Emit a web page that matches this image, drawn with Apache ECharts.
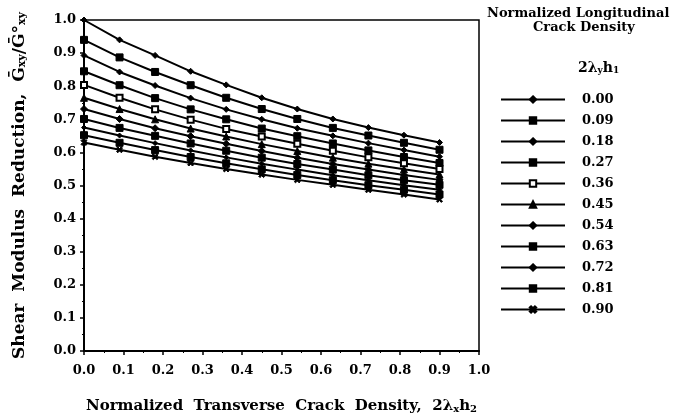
<!DOCTYPE html>
<html>
<head>
<meta charset="utf-8">
<script src="https://cdn.jsdelivr.net/npm/echarts@6/dist/echarts.min.js"></script>
<style>
  html, body { margin: 0; padding: 0; background: #fff; }
  #chart { width: 675px; height: 419px; }
</style>
</head>
<body>
<div id="chart"></div>
<script>
// transverse crack density (x axis)
const xs = [0.00, 0.09, 0.18, 0.27, 0.36, 0.45, 0.54, 0.63, 0.72, 0.81, 0.90];

// one curve per longitudinal crack density
const names = ['0.00', '0.09', '0.18', '0.27', '0.36', '0.45', '0.54', '0.63', '0.72', '0.81', '0.90'];
const c000 = [1.000, 0.940, 0.893, 0.845, 0.804, 0.765, 0.731, 0.701, 0.675, 0.652, 0.630];
const c009 = [0.940, 0.887, 0.843, 0.803, 0.765, 0.731, 0.701, 0.674, 0.651, 0.629, 0.608];
const c018 = [0.893, 0.843, 0.802, 0.764, 0.730, 0.700, 0.673, 0.650, 0.628, 0.607, 0.587];
const c027 = [0.845, 0.803, 0.764, 0.730, 0.700, 0.672, 0.649, 0.627, 0.606, 0.586, 0.568];
const c036 = [0.804, 0.765, 0.730, 0.699, 0.671, 0.648, 0.626, 0.605, 0.585, 0.567, 0.550];
const c045 = [0.765, 0.731, 0.700, 0.672, 0.648, 0.625, 0.604, 0.584, 0.566, 0.549, 0.533];
const c054 = [0.731, 0.701, 0.673, 0.649, 0.626, 0.604, 0.584, 0.565, 0.548, 0.532, 0.517];
const c063 = [0.701, 0.674, 0.650, 0.627, 0.605, 0.584, 0.565, 0.548, 0.531, 0.516, 0.502];
const c072 = [0.675, 0.651, 0.628, 0.606, 0.585, 0.566, 0.548, 0.531, 0.516, 0.501, 0.487];
const c081 = [0.652, 0.629, 0.607, 0.586, 0.567, 0.549, 0.532, 0.516, 0.501, 0.487, 0.473];
const c090 = [0.630, 0.608, 0.587, 0.568, 0.550, 0.533, 0.517, 0.502, 0.487, 0.473, 0.458];
const curves = [c000, c009, c018, c027, c036, c045, c054, c063, c072, c081, c090];

const xTicks = ['0.0', '0.1', '0.2', '0.3', '0.4', '0.5', '0.6', '0.7', '0.8', '0.9', '1.0'];
const yTicks = ['0.0', '0.1', '0.2', '0.3', '0.4', '0.5', '0.6', '0.7', '0.8', '0.9', '1.0'];

const cross = 'path://M0,2L2,0L5,3L8,0L10,2L7,5L10,8L8,10L5,7L2,10L0,8L3,5Z';
const symbols = ['diamond', 'rect', 'diamond', 'rect', 'emptyRect', 'triangle', 'diamond', 'rect', 'diamond', 'rect', cross];
const sizes = [6, 7, 6, 7, 6, 7, 7, 7, 5, 7, 6];

const serif = 'DejaVu Serif';

const chart = echarts.init(document.getElementById('chart'));

const series = curves.map((vals, i) => ({
  name: names[i],
  type: 'line',
  data: xs.map((x, k) => [x, vals[k]]),
  symbol: symbols[i],
  symbolSize: sizes[i],
  showAllSymbol: true,
  lineStyle: { color: '#000', width: 2 },
  itemStyle: { color: '#000', borderColor: '#000', borderWidth: 1 },
  emphasis: { disabled: true },
  z: 3
}));

chart.setOption({
  animation: false,
  backgroundColor: '#fff',
  grid: {
    left: 84, right: 196, top: 20, bottom: 68,
    outerBoundsMode: 'none',
    show: true, borderColor: '#000', borderWidth: 1.5
  },
  legend: {
    orient: 'vertical',
    left: 495, top: 88,
    itemWidth: 64, itemHeight: 8, itemGap: 8,
    data: names,
    textStyle: { fontFamily: serif, fontWeight: 'bold', fontSize: 13, color: '#000', padding: [0, 0, 0, 12] },
    selectedMode: false
  },
  graphic: [
    { type: 'text', left: 487, top: 7, style: { text: 'Normalized Longitudinal', font: 'bold 13px "DejaVu Serif"', fill: '#000' } },
    { type: 'text', left: 533, top: 21, style: { text: 'Crack Density', font: 'bold 13px "DejaVu Serif"', fill: '#000' } },
    {
      type: 'text', left: 578, top: 61,
      style: {
        text: '{m|2λ}{s|y}{m|h}{s|1}',
        rich: {
          m: { fontFamily: serif, fontWeight: 'bold', fontSize: 14, fill: '#000', lineHeight: 20, verticalAlign: 'bottom' },
          s: { fontFamily: serif, fontWeight: 'bold', fontSize: 9, fill: '#000', lineHeight: 20, verticalAlign: 'bottom' }
        }
      }
    }
  ],
  xAxis: {
    type: 'value', min: 0, max: 1, interval: 0.1,
    axisLine: { lineStyle: { color: '#000', width: 2 } },
    axisTick: { show: true, length: 4, inside: false, lineStyle: { color: '#000', width: 1.5 } },
    minorTick: { show: true, splitNumber: 2, length: 2, lineStyle: { color: '#000' } },
    splitLine: { show: false },
    axisLabel: {
      margin: 13, color: '#000', fontFamily: serif, fontWeight: 'bold', fontSize: 13,
      formatter: (v) => xTicks[Math.round(v * 10)]
    },
    name: '{m|Normalized  Transverse  Crack  Density,  2λ}{s|x}{m|h}{s|2}',
    nameLocation: 'middle', nameGap: 43,
    nameTextStyle: {
      rich: {
        m: { fontFamily: serif, fontWeight: 'bold', fontSize: 15, color: '#000', lineHeight: 20, verticalAlign: 'bottom' },
        s: { fontFamily: serif, fontWeight: 'bold', fontSize: 10, color: '#000', lineHeight: 20, verticalAlign: 'bottom' }
      }
    }
  },
  yAxis: {
    type: 'value', min: 0, max: 1, interval: 0.1,
    axisLine: { show: true, lineStyle: { color: '#000', width: 2 } },
    axisTick: { show: true, length: 4, inside: false, lineStyle: { color: '#000', width: 1.5 } },
    minorTick: { show: true, splitNumber: 2, length: 2, lineStyle: { color: '#000' } },
    splitLine: { show: false },
    axisLabel: {
      margin: 8, color: '#000', fontFamily: serif, fontWeight: 'bold', fontSize: 13,
      formatter: (v) => yTicks[Math.round(v * 10)]
    },
    name: '{m|Shear  Modulus  Reduction,  Ḡ}{s|xy}{m|/Ḡ°}{s|xy}',
    nameLocation: 'middle', nameGap: 56, nameRotate: 90,
    nameTextStyle: {
      rich: {
        m: { fontFamily: serif, fontWeight: 'bold', fontSize: 17, color: '#000', lineHeight: 24, verticalAlign: 'bottom' },
        s: { fontFamily: serif, fontWeight: 'bold', fontSize: 11, color: '#000', lineHeight: 24, verticalAlign: 'bottom' }
      }
    }
  },
  series: series
});
</script>
</body>
</html>
